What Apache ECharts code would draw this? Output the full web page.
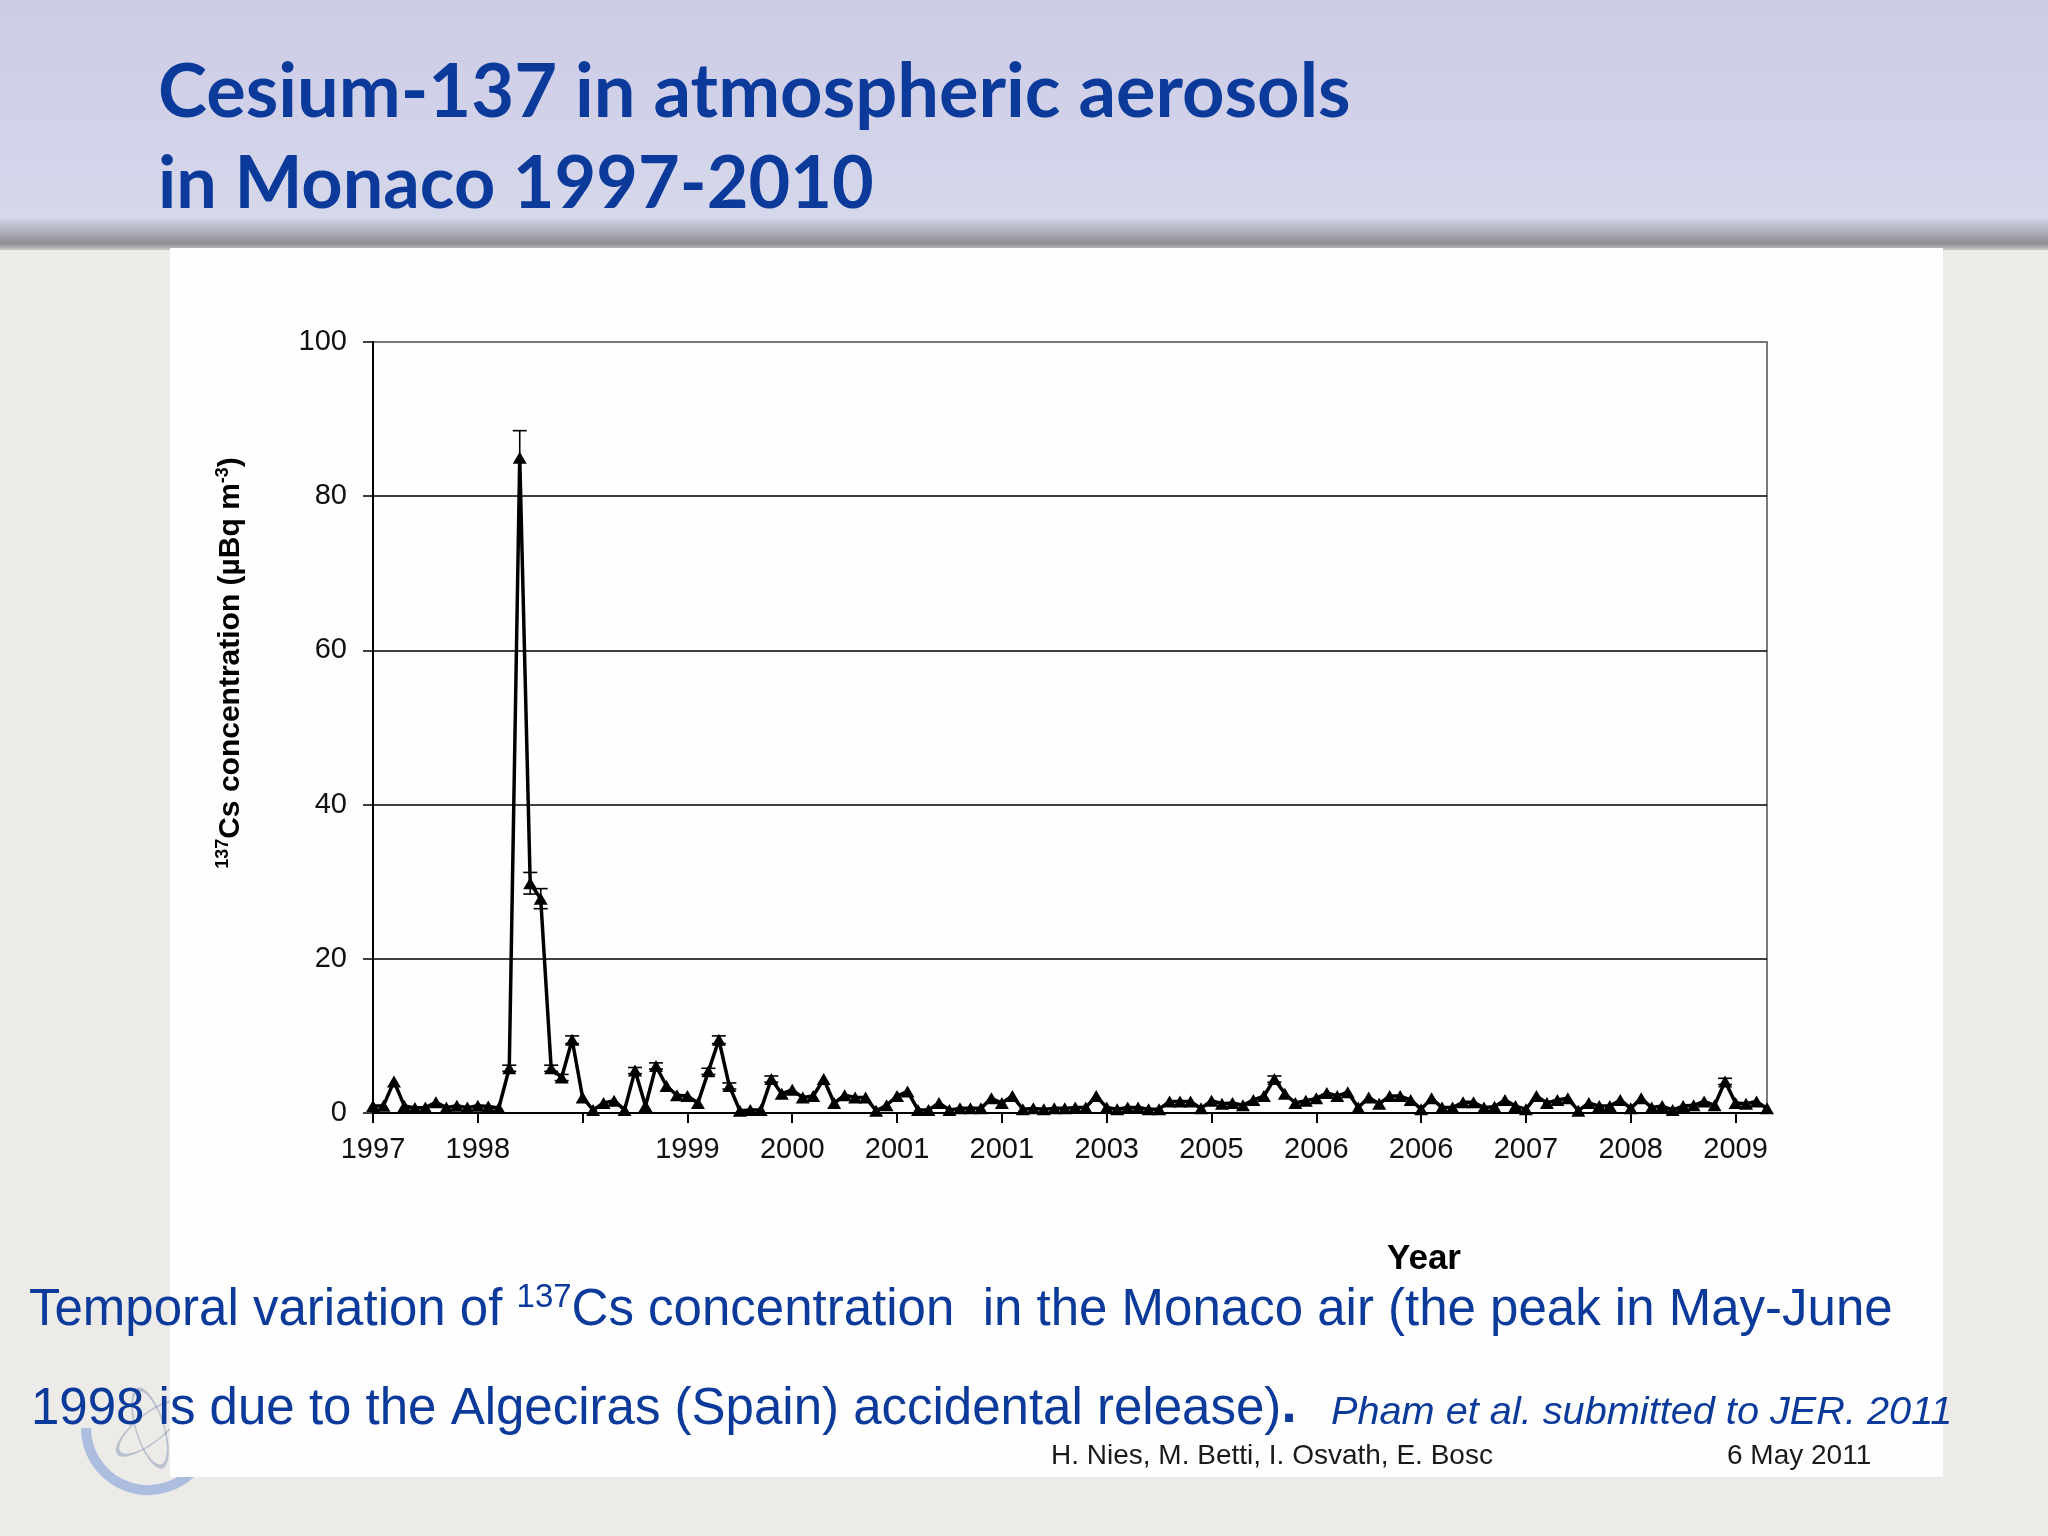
<!DOCTYPE html>
<html>
<head>
<meta charset="utf-8">
<script src="https://cdn.jsdelivr.net/npm/echarts/dist/echarts.min.js"></script>
<style>
html,body{margin:0;padding:0;background:#ecebe8;}
#chart{width:2048px;height:1536px;}
</style>
</head>
<body>
<div id="chart"></div>
<script>
// ---- data ----
const tickLabels = ['1997','1998','','1999','2000','2001','2001','2003','2005','2006','2006','2007','2008','2009'];

// 137Cs concentration (µBq m-3), one value per sample
const conc = [
  0.9, 0.95, 4.1, 0.9, 0.65, 0.7, 1.4, 0.7, 0.95, 0.7,
  0.95, 0.85, 0.65, 5.8, 85, 29.8, 27.8, 5.8, 4.6, 9.5,
  2.0, 0.4, 1.3, 1.6, 0.4, 5.5, 0.9, 6.1, 3.5, 2.3,
  2.2, 1.3, 5.4, 9.5, 3.5, 0.3, 0.4, 0.4, 4.4, 2.5,
  3.0, 2.0, 2.2, 4.4, 1.3, 2.3, 2.0, 2.0, 0.3, 1.0,
  2.2, 2.8, 0.4, 0.4, 1.3, 0.4, 0.6, 0.6, 0.6, 1.9,
  1.3, 2.2, 0.5, 0.6, 0.5, 0.6, 0.6, 0.7, 0.7, 2.2,
  0.7, 0.5, 0.7, 0.7, 0.5, 0.5, 1.5, 1.5, 1.5, 0.6,
  1.6, 1.2, 1.3, 1.0, 1.7, 2.2, 4.4, 2.5, 1.3, 1.6,
  1.9, 2.6, 2.2, 2.7, 0.7, 2.0, 1.2, 2.2, 2.2, 1.7,
  0.5, 1.9, 0.7, 0.7, 1.4, 1.4, 0.7, 0.8, 1.7, 0.9,
  0.5, 2.2, 1.3, 1.7, 1.9, 0.3, 1.3, 0.9, 0.9, 1.7,
  0.6, 1.9, 0.7, 0.9, 0.4, 0.9, 1.0, 1.5, 1.0, 4.1,
  1.3, 1.2, 1.5, 0.6
];

// error bars: sample index, lower and upper half-widths
const errIndex = [13, 14, 15, 16, 17, 18, 19, 25, 27, 32, 33, 34, 38, 86, 129];
const errMinus = [0.4, 0.0, 1.4, 1.3, 0.4, 0.4, 0.5, 0.4, 0.4, 0.4, 0.5, 0.4, 0.4, 0.4, 0.4];
const errPlus  = [0.4, 3.5, 1.4, 1.3, 0.4, 0.4, 0.5, 0.4, 0.4, 0.4, 0.5, 0.4, 0.4, 0.4, 0.4];

const categories = conc.map((v, i) => 'S' + (i + 1));
const errData = errIndex.map((idx, k) => [idx, conc[idx] - errMinus[k], conc[idx] + errPlus[k], conc[idx]]);

// ---- chart ----
const chart = echarts.init(document.getElementById('chart'), null, {renderer: 'canvas', width: 2048, height: 1536});
const SANS = '"Liberation Sans", Arial, Helvetica, sans-serif';
const BLUE = '#0b3a9b';

const option = {
  animation: false,
  backgroundColor: '#ecebe8',
  grid: {
    left: 373, top: 342, width: 1394, height: 771,
    show: true, borderColor: '#7a7a7a', borderWidth: 2, backgroundColor: 'transparent',
    containLabel: false, outerBoundsMode: 'none'
  },
  xAxis: {
    type: 'category',
    data: categories,
    boundaryGap: false,
    axisLine: {show: true, lineStyle: {color: '#000', width: 2}},
    axisTick: {show: true, interval: 9, length: 10, inside: false, lineStyle: {color: '#000', width: 2}},
    axisLabel: {
      interval: 9, margin: 22, fontSize: 29, color: '#111', fontFamily: SANS,
      formatter: function (v, i) { return i % 10 === 0 ? (tickLabels[i / 10] || '') : ''; }
    },
    splitLine: {show: false}
  },
  yAxis: {
    type: 'value', min: 0, max: 100, interval: 20,
    axisLine: {show: true, lineStyle: {color: '#000', width: 2}},
    axisTick: {show: true, length: 10, inside: false, lineStyle: {color: '#000', width: 1.5}},
    axisLabel: {margin: 26, fontSize: 29, color: '#111', fontFamily: SANS},
    splitLine: {show: true, lineStyle: {color: ['#000', '#000', '#000', '#000', '#000', '#7a7a7a'], width: 1.5}}
  },
  series: [
    {
      type: 'line',
      data: conc,
      symbol: 'triangle',
      symbolSize: [14, 12],
      showAllSymbol: true,
      itemStyle: {color: '#000'},
      lineStyle: {color: '#000', width: 3.5},
      z: 3
    },
    {
      type: 'custom',
      data: errData,
      encode: {x: 0, y: [1, 2]},
      z: 4,
      renderItem: function (params, api) {
        const lo = api.coord([api.value(0), api.value(1)]);
        const hi = api.coord([api.value(0), api.value(2)]);
        const mid = api.coord([api.value(0), api.value(3)]);
        const w = 7;
        const st = {stroke: '#000', lineWidth: 1.6};
        const kids = [{type: 'line', shape: {x1: lo[0], y1: lo[1], x2: hi[0], y2: hi[1]}, style: st}];
        if (Math.abs(lo[1] - mid[1]) > 0.5) kids.push({type: 'line', shape: {x1: lo[0] - w, y1: lo[1], x2: lo[0] + w, y2: lo[1]}, style: st});
        if (Math.abs(hi[1] - mid[1]) > 0.5) kids.push({type: 'line', shape: {x1: hi[0] - w, y1: hi[1], x2: hi[0] + w, y2: hi[1]}, style: st});
        return {type: 'group', children: kids};
      }
    }
  ],
  graphic: [
    // slide header band
    {type: 'rect', z: -20, shape: {x: 0, y: 0, width: 2048, height: 232},
      style: {fill: {type: 'linear', x: 0, y: 0, x2: 0, y2: 1, colorStops: [
        {offset: 0, color: '#cccce6'}, {offset: 1, color: '#d6d8eb'}]}}},
    {type: 'rect', z: -19, shape: {x: 0, y: 218, width: 2048, height: 32},
      style: {fill: {type: 'linear', x: 0, y: 0, x2: 0, y2: 1, colorStops: [
        {offset: 0, color: '#d3d4e6'}, {offset: 0.45, color: '#adaeb8'},
        {offset: 0.8, color: '#8e8e92'}, {offset: 1, color: '#c9c9c9'}]}}},
    // faint logo (wreath + atom) in the lower-left corner
    {type: 'arc', z: -18, shape: {cx: 148, cy: 1428, r: 62, startAngle: 0.15 * Math.PI, endAngle: 1.0 * Math.PI},
      style: {stroke: 'rgba(80,120,210,0.4)', lineWidth: 10, fill: null}},
    {type: 'circle', z: -18, x: 150, y: 1428, rotation: 0.3, scaleX: 0.35,
      shape: {cx: 0, cy: 0, r: 40}, style: {stroke: 'rgba(110,130,170,0.4)', lineWidth: 2.5, fill: null, strokeNoScale: true}},
    {type: 'circle', z: -18, x: 150, y: 1428, rotation: -0.9, scaleX: 0.35,
      shape: {cx: 0, cy: 0, r: 40}, style: {stroke: 'rgba(110,130,170,0.4)', lineWidth: 2.5, fill: null, strokeNoScale: true}},
    // white chart panel
    {type: 'rect', z: -15, shape: {x: 170, y: 248, width: 1773, height: 1229}, style: {fill: '#fefefe'}},

    // slide title
    {type: 'text', z: 10, x: 158, y: 93, style: {text: 'Cesium-137 in atmospheric aerosols',
      fontFamily: 'Lato, "Open Sans", sans-serif', fontWeight: 'bold', fontSize: 74, fill: BLUE,
      align: 'left', verticalAlign: 'middle'}},
    {type: 'text', z: 10, x: 158, y: 185, style: {text: 'in Monaco 1997-2010',
      fontFamily: 'Lato, "Open Sans", sans-serif', fontWeight: 'bold', fontSize: 72, fill: BLUE,
      align: 'left', verticalAlign: 'middle'}},

    // y axis title (rotated)
    {type: 'text', z: 10, x: 231, y: 663, rotation: Math.PI / 2, style: {
      text: '{sup|137}{b|Cs concentration (µBq m}{sup|-3}{b|)}',
      align: 'center', verticalAlign: 'middle',
      rich: {
        b: {fontSize: 30, fontWeight: 'bold', fontFamily: SANS, fill: '#000', lineHeight: 34},
        sup: {fontSize: 18, fontWeight: 'bold', fontFamily: SANS, fill: '#000', lineHeight: 18, verticalAlign: 'top'}
      }}},
    // x axis title
    {type: 'text', z: 10, x: 1424, y: 1259, style: {text: 'Year', fontFamily: SANS, fontWeight: 'bold',
      fontSize: 35, fill: '#000', align: 'center', verticalAlign: 'middle'}},

    // caption
    {type: 'text', z: 10, x: 29, y: 1311, style: {
      text: '{m|Temporal variation of }{sup|137}{m|Cs concentration  in the Monaco air (the peak in May-June}',
      align: 'left', verticalAlign: 'middle',
      rich: {
        m: {fontSize: 51, fontFamily: SANS, fill: BLUE, lineHeight: 60},
        sup: {fontSize: 33, fontFamily: SANS, fill: BLUE, lineHeight: 33, verticalAlign: 'top'}
      }}},
    {type: 'text', z: 10, x: 31, y: 1403, style: {
      text: '{m|1998 is due to the Algeciras (Spain) accidental release)}{d|.}',
      align: 'left', verticalAlign: 'middle',
      rich: {
        m: {fontSize: 51, fontFamily: SANS, fill: BLUE, lineHeight: 60, verticalAlign: 'bottom'},
        d: {fontSize: 56, fontWeight: 'bold', fontFamily: SANS, fill: BLUE, lineHeight: 64, verticalAlign: 'bottom'}
      }}},
    {type: 'text', z: 10, x: 1331, y: 1413, style: {text: 'Pham et al. submitted to JER. 2011',
      fontFamily: SANS, fontStyle: 'italic', fontSize: 39.7, fill: BLUE, align: 'left', verticalAlign: 'middle'}},

    // footer
    {type: 'text', z: 10, x: 1051, y: 1456, style: {text: 'H. Nies, M. Betti, I. Osvath, E. Bosc',
      fontFamily: SANS, fontSize: 28, fill: '#1a1a1a', align: 'left', verticalAlign: 'middle'}},
    {type: 'text', z: 10, x: 1727, y: 1456, style: {text: '6 May 2011',
      fontFamily: SANS, fontSize: 28, fill: '#1a1a1a', align: 'left', verticalAlign: 'middle'}}
  ]
};
chart.setOption(option);
</script>
</body>
</html>
